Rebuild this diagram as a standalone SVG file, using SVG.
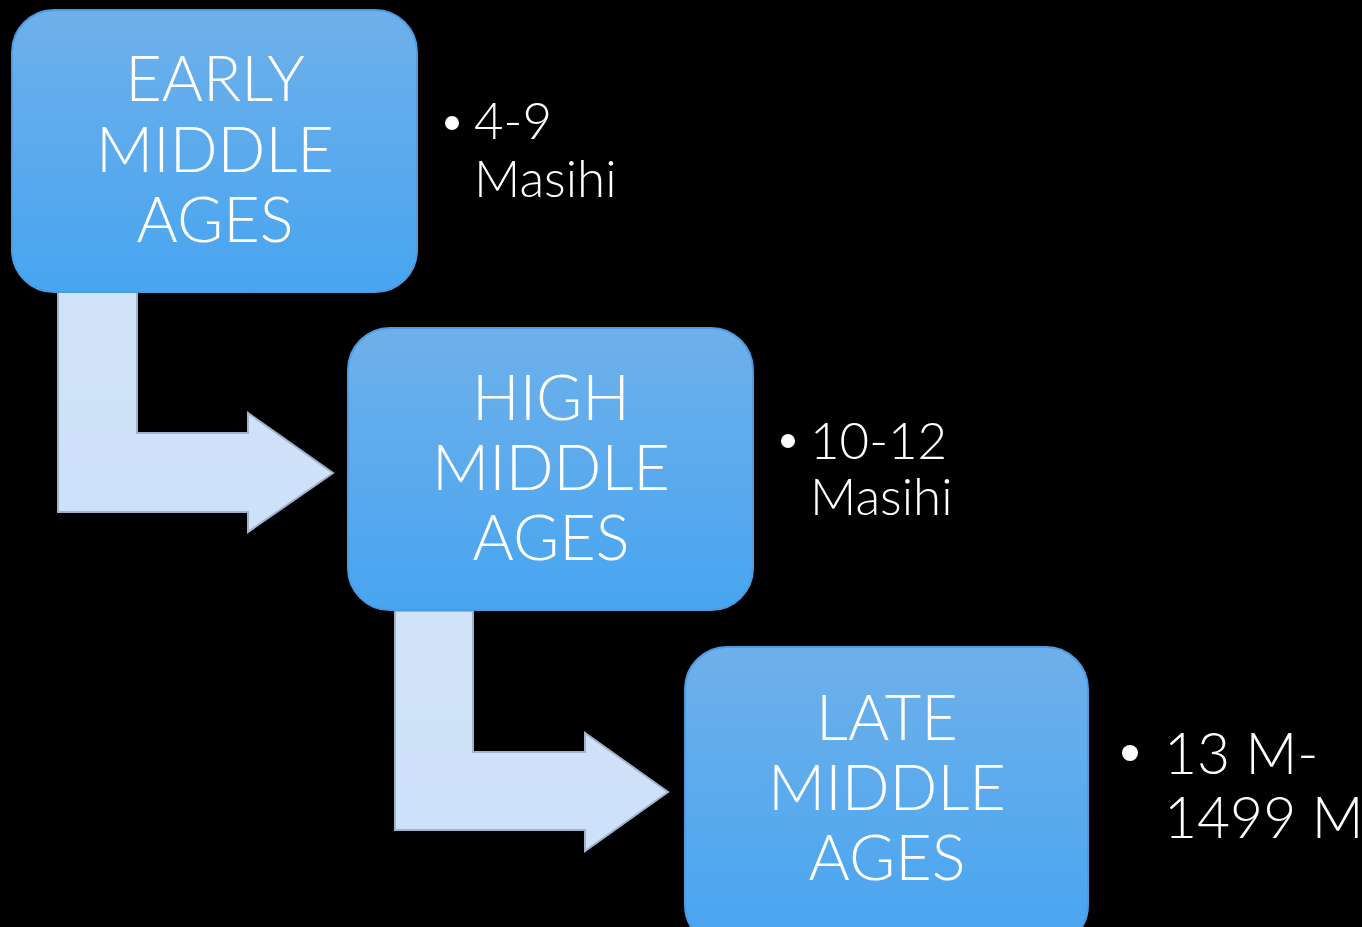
<svg xmlns="http://www.w3.org/2000/svg" width="1362" height="927" viewBox="0 0 1362 927">
<defs>
<linearGradient id="boxg" x1="0" y1="0" x2="0" y2="1">
<stop offset="0" stop-color="#6eb0ea"/>
<stop offset="1" stop-color="#48a5f0"/>
</linearGradient>
<linearGradient id="arrg" x1="0" y1="0" x2="0" y2="1">
<stop offset="0" stop-color="#d0e3f9"/>
<stop offset="1" stop-color="#cde1f8"/>
</linearGradient>
<style>
.box{fill:url(#boxg);stroke:#4d9be0;stroke-width:2}
.arr{fill:url(#arrg);stroke:#9fb3cc;stroke-width:2;stroke-linejoin:miter}
.lbl{font-family:Lato,"Liberation Sans",sans-serif;font-weight:300;font-size:63px;fill:#ffffff;text-anchor:middle}
.side{font-family:Lato,"Liberation Sans",sans-serif;font-weight:300;font-size:51px;fill:#ffffff}
.side3{font-family:Lato,"Liberation Sans",sans-serif;font-weight:300;font-size:57px;fill:#ffffff}
</style>
</defs>
<rect width="1362" height="927" fill="#000000"/>
<g id="connectors">
<polygon class="arr" points="58,292 137,292 137,433 248,433 248,413 333,473 248,532 248,512 58,512"/>
<polygon class="arr" points="395,611 473,611 473,752 585,752 585,733 668,792 585,851 585,830 395,830"/>
</g>
<g id="node-early">
<rect class="box" x="12" y="10" width="405" height="282" rx="42"/>
<text class="lbl" x="215" y="101">EARLY</text>
<text class="lbl" x="215" y="172">MIDDLE</text>
<text class="lbl" x="215" y="242">AGES</text>
</g>
<g id="node-high">
<rect class="box" x="348" y="328" width="405" height="282" rx="42"/>
<text class="lbl" x="551" y="420">HIGH</text>
<text class="lbl" x="551" y="490">MIDDLE</text>
<text class="lbl" x="551" y="560">AGES</text>
</g>
<g id="node-late">
<rect class="box" x="685" y="647" width="403" height="300" rx="42"/>
<text class="lbl" x="887" y="740">LATE</text>
<text class="lbl" x="887" y="810">MIDDLE</text>
<text class="lbl" x="887" y="880">AGES</text>
</g>
<g id="note-early">
<circle cx="452" cy="123" r="7" fill="#ffffff"/>
<text class="side" x="474" y="139">4-9</text>
<text class="side" x="474" y="197">Masihi</text>
</g>
<g id="note-high">
<circle cx="788" cy="441" r="7" fill="#ffffff"/>
<text class="side" x="810" y="459">10-12</text>
<text class="side" x="810" y="515">Masihi</text>
</g>
<g id="note-late">
<circle cx="1130" cy="753" r="8" fill="#ffffff"/>
<text class="side3" x="1164" y="774">13 M-</text>
<text class="side3" x="1164" y="838">1499 M</text>
</g>
</svg>
